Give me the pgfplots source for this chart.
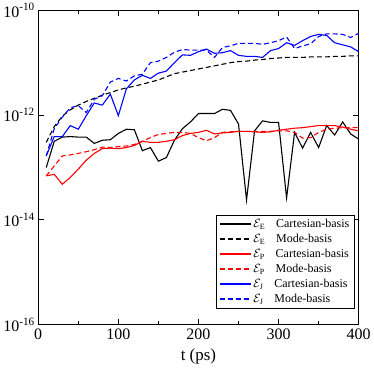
\documentclass[border=0pt]{standalone}
\usepackage{fontspec}
\setmainfont{Liberation Serif}
\usepackage{pgfplots}
\pgfplotsset{compat=1.18}

% energy error curves at 10 ps steps
\newcommand{\ent}[2]{$\mathcal{E}_{\mathrm{#1}}$\hspace{11pt}#2}

\begin{document}
\begin{tikzpicture}
\begin{axis}[
  scale only axis,
  width=321pt, height=315pt,
  xmin=0, xmax=400,
  ymode=log, ymin=1e-16, ymax=1e-10,
  xtick={0,100,200,300,400},
  minor xtick={50,150,250,350},
  ytick={1e-16,1e-14,1e-12,1e-10},
  yticklabels={10\textsuperscript{-16},10\textsuperscript{-14},10\textsuperscript{-12},10\textsuperscript{-10}},
  yminorticks=false,
  tick align=inside,
  major tick length=6pt, minor tick length=4pt,
  tick style={black, line width=0.9pt},
  axis line style={line width=1.3pt},
  /pgf/number format/assume math mode=true,
  ticklabel style={font=\fontsize{16}{16}\selectfont},
  xticklabel style={yshift=-1pt},
  xlabel={t (ps)},
  xlabel style={font=\fontsize{17}{17}\selectfont, yshift=-2pt},
  legend style={at={(0.987,0.053)}, anchor=south east,
    font=\fontsize{12}{15}\selectfont,
    row sep=1.2pt, inner xsep=3pt, inner ysep=2pt},
  legend cell align=left,
  legend image code/.code={\draw[#1, line width=1.4pt] (0pt,0pt) -- (31pt,0pt);},
]
\addplot[black, line width=1.1pt] coordinates {
(10,1.00e-13) (20,3.16e-13) (30,3.80e-13) (40,3.89e-13) (50,3.80e-13)
(60,3.80e-13) (70,2.88e-13) (80,3.31e-13) (90,3.39e-13) (100,4.47e-13)
(110,5.37e-13) (120,5.25e-13) (130,2.09e-13) (140,2.40e-13) (150,1.32e-13)
(160,1.55e-13) (170,3.31e-13) (180,5.50e-13) (190,7.41e-13) (200,1.07e-12)
(210,1.07e-12) (220,1.07e-12) (230,1.29e-12) (240,1.23e-12) (250,6.76e-13)
(260,2.40e-14) (270,5.01e-13) (280,7.76e-13) (290,7.24e-13) (300,7.24e-13)
(310,2.63e-14) (320,4.68e-13) (330,2.34e-13) (340,4.68e-13) (350,2.40e-13)
(360,6.31e-13) (370,4.17e-13) (380,7.41e-13) (390,4.37e-13) (400,3.47e-13)
};
\addlegendentry{\ent{E}{Cartesian-basis}}
\addplot[black, line width=1.1pt, dash pattern=on 5pt off 3pt] coordinates {
(10,3.02e-13) (20,6.03e-13) (30,9.55e-13) (40,1.26e-12) (50,1.55e-12)
(60,1.82e-12) (70,2.09e-12) (80,2.40e-12) (90,2.69e-12) (100,3.02e-12)
(110,3.31e-12) (120,3.55e-12) (130,3.89e-12) (140,4.27e-12) (150,4.68e-12)
(160,5.37e-12) (170,6.17e-12) (180,6.61e-12) (190,7.08e-12) (200,7.59e-12)
(210,8.13e-12) (220,8.71e-12) (230,9.33e-12) (240,1.00e-11) (250,1.05e-11)
(260,1.07e-11) (270,1.12e-11) (280,1.15e-11) (290,1.20e-11) (300,1.23e-11)
(310,1.26e-11) (320,1.26e-11) (330,1.26e-11) (340,1.29e-11) (350,1.29e-11)
(360,1.29e-11) (370,1.32e-11) (380,1.32e-11) (390,1.35e-11) (400,1.35e-11)
};
\addlegendentry{\ent{E}{Mode-basis}}
\addplot[red, line width=1.1pt] coordinates {
(10,6.92e-14) (20,7.41e-14) (30,4.79e-14) (40,6.46e-14) (50,9.33e-14)
(60,1.38e-13) (70,1.86e-13) (80,2.29e-13) (90,2.34e-13) (100,2.29e-13)
(110,2.40e-13) (120,2.63e-13) (130,3.16e-13) (140,3.02e-13) (150,3.02e-13)
(160,3.16e-13) (170,3.39e-13) (180,4.07e-13) (190,4.47e-13) (200,4.68e-13)
(210,5.13e-13) (220,4.37e-13) (230,4.57e-13) (240,4.68e-13) (250,4.90e-13)
(260,4.90e-13) (270,4.79e-13) (280,4.68e-13) (290,4.79e-13) (300,5.13e-13)
(310,5.37e-13) (320,5.62e-13) (330,5.75e-13) (340,6.03e-13) (350,6.31e-13)
(360,6.31e-13) (370,6.31e-13) (380,5.89e-13) (390,5.37e-13) (400,5.01e-13)
};
\addlegendentry{\ent{P}{Cartesian-basis}}
\addplot[red, line width=1.1pt, dash pattern=on 5pt off 3pt] coordinates {
(10,6.92e-14) (20,1.07e-13) (30,1.66e-13) (40,1.74e-13) (50,1.86e-13)
(60,2.00e-13) (70,2.19e-13) (80,2.45e-13) (90,2.40e-13) (100,2.51e-13)
(110,2.57e-13) (120,2.75e-13) (130,3.16e-13) (140,3.72e-13) (150,4.27e-13)
(160,4.47e-13) (170,4.68e-13) (180,4.68e-13) (190,4.47e-13) (200,3.72e-13)
(210,3.24e-13) (220,3.72e-13) (230,4.68e-13) (240,4.79e-13) (250,4.90e-13)
(260,4.90e-13) (270,4.90e-13) (280,4.90e-13) (290,4.90e-13) (300,5.01e-13)
(310,5.01e-13) (320,4.68e-13) (330,3.63e-13) (340,3.72e-13) (350,4.68e-13)
(360,5.37e-13) (370,5.62e-13) (380,5.75e-13) (390,5.75e-13) (400,5.75e-13)
};
\addlegendentry{\ent{P}{Mode-basis}}
\addplot[blue, line width=1.1pt] coordinates {
(10,1.66e-13) (20,3.89e-13) (30,3.89e-13) (40,6.31e-13) (50,5.37e-13)
(60,9.77e-13) (70,1.70e-12) (80,1.55e-12) (90,2.51e-12) (100,9.77e-13)
(110,3.16e-12) (120,4.68e-12) (130,5.75e-12) (140,5.01e-12) (150,6.31e-12)
(160,6.92e-12) (170,1.00e-11) (180,1.41e-11) (190,1.38e-11) (200,1.62e-11)
(210,1.82e-11) (220,1.51e-11) (230,1.55e-11) (240,1.70e-11) (250,1.38e-11)
(260,1.32e-11) (270,1.32e-11) (280,1.26e-11) (290,1.70e-11) (300,1.86e-11)
(310,2.40e-11) (320,2.14e-11) (330,2.63e-11) (340,3.16e-11) (350,3.47e-11)
(360,3.31e-11) (370,2.40e-11) (380,2.19e-11) (390,2.00e-11) (400,1.62e-11)
};
\addlegendentry{\ent{J}{Cartesian-basis}}
\addplot[blue, line width=1.1pt, dash pattern=on 5pt off 3pt] coordinates {
(10,1.66e-13) (20,5.50e-13) (30,9.12e-13) (40,1.38e-12) (50,1.51e-12)
(60,1.12e-12) (70,2.00e-12) (80,2.34e-12) (90,4.27e-12) (100,5.01e-12)
(110,4.47e-12) (120,5.62e-12) (130,6.03e-12) (140,1.00e-11) (150,1.07e-11)
(160,1.26e-11) (170,1.58e-11) (180,1.78e-11) (190,1.74e-11) (200,1.74e-11)
(210,1.74e-11) (220,1.26e-11) (230,1.95e-11) (240,2.09e-11) (250,2.34e-11)
(260,2.34e-11) (270,2.34e-11) (280,2.24e-11) (290,2.40e-11) (300,2.63e-11)
(310,3.09e-11) (320,1.86e-11) (330,2.09e-11) (340,2.29e-11) (350,3.16e-11)
(360,3.55e-11) (370,3.55e-11) (380,3.47e-11) (390,3.02e-11) (400,3.63e-11)
};
\addlegendentry{\ent{J}{Mode-basis}}
\end{axis}
\end{tikzpicture}
\end{document}
